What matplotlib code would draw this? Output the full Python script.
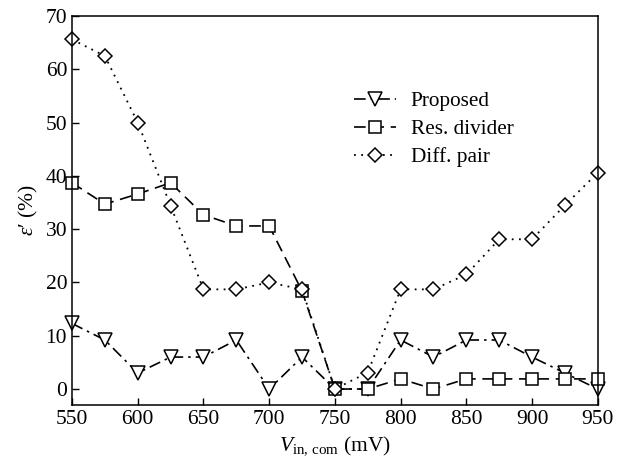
import numpy as np
import matplotlib
matplotlib.use("Agg")
import matplotlib.pyplot as plt

plt.rcParams["font.family"] = ["Liberation Serif", "DejaVu Serif"]
plt.rcParams["mathtext.fontset"] = "custom"
plt.rcParams["mathtext.rm"] = "Liberation Serif"
plt.rcParams["mathtext.it"] = "Liberation Serif:italic"

# Data
v_in = [550, 575, 600, 625, 650, 675, 700, 725, 750, 775, 800, 825, 850, 875, 900, 925, 950]
proposed = [12.3, 9.2, 3.0, 6.0, 6.0, 9.2, 0.0, 6.0, 0.0, 0.0, 9.2, 6.0, 9.2, 9.2, 6.0, 3.0, 0.0]
res_divider = [38.7, 34.7, 36.6, 38.7, 32.7, 30.6, 30.6, 18.4, 0.0, 0.0, 1.9, 0.0, 1.9, 1.9, 1.9, 1.9, 1.9]
diff_pair = [65.6, 62.5, 50.0, 34.4, 18.7, 18.7, 20.0, 18.7, 0.0, 3.1, 18.7, 18.7, 21.5, 28.1, 28.1, 34.5, 40.6]

fig = plt.figure(figsize=(6.24, 4.65), dpi=100)
ax = fig.add_axes([0.1154, 0.129, 0.8426, 0.8366])

ax.plot(v_in, proposed, color="black", linestyle=(0, (7, 3, 1.5, 3)), linewidth=1.2,
        marker="v", markersize=9.5, markerfacecolor="white", markeredgewidth=1.1,
        label="Proposed", clip_on=False)
ax.plot(v_in, res_divider, color="black", linestyle=(0, (7, 4)), linewidth=1.2,
        marker="s", markersize=8, markerfacecolor="white", markeredgewidth=1.1,
        label="Res. divider", clip_on=False)
ax.plot(v_in, diff_pair, color="black", linestyle=(0, (1, 3)), linewidth=1.3,
        marker="D", markersize=7, markerfacecolor="white", markeredgewidth=1.1,
        label="Diff. pair", clip_on=False)

ax.set_xlim(550, 950)
ax.set_ylim(-3, 70)
ax.set_xticks(np.arange(550, 951, 50))
ax.set_yticks(np.arange(0, 71, 10))
ax.tick_params(direction="in", labelsize=15.5, length=5, width=1, top=False, right=False)
for s in ax.spines.values():
    s.set_linewidth(1.1)

ax.set_xlabel(r"$V_{\mathrm{in,\,com}}$ (mV)", fontsize=15.5)
ax.set_ylabel("$\\varepsilon$\u2032 (%)", fontsize=15.5)

ax.legend(loc="upper left", bbox_to_anchor=(0.499, 0.855), frameon=False, fontsize=15.3,
          handlelength=2.0, handletextpad=0.7, labelspacing=0.38)

fig.savefig("out.png", dpi=100)
